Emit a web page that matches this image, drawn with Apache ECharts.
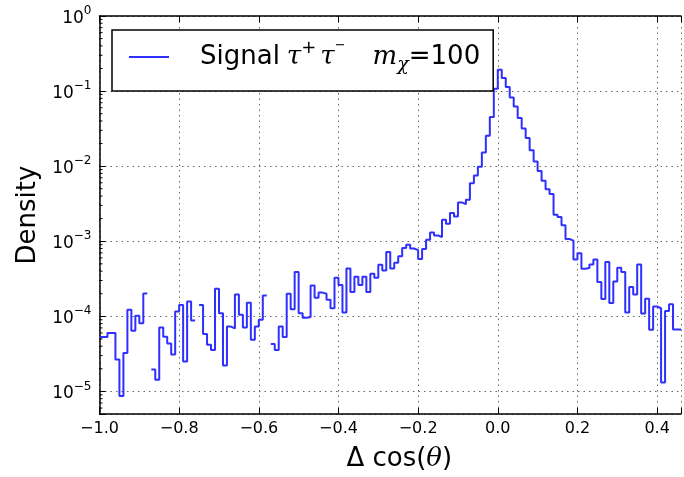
<!DOCTYPE html>
<html><head><meta charset="utf-8">
<script src="https://cdn.jsdelivr.net/npm/echarts@6/dist/echarts.min.js"></script>
<style>html,body{margin:0;padding:0;background:#fff}#c{width:684px;height:477px}</style>
</head><body><div id="c"></div>
<script>
// Histogram: bins of width 0.01 starting at -1.0 (null = empty bin)
const binStart = -1.0;
const binWidth = 0.01;
const density = [
  5.3e-5, 5.3e-5, 6.0e-5, 6.0e-5, 2.65e-5, 8.7e-6, 3.25e-5, 1.22e-4, 6.4e-5, 1.02e-4,
  8.1e-5, 2.02e-4, null, 1.95e-5, 1.43e-5, 7.1e-5, 5.35e-5, 4.36e-5, 3.09e-5, 1.16e-4,
  1.42e-4, 2.5e-5, 1.57e-4, 8.8e-5, null, 1.42e-4, 5.8e-5, 4.19e-5, 3.56e-5, 2.33e-4,
  1.10e-4, 2.21e-5, 7.3e-5, 6.9e-5, 1.96e-4, 1.05e-4, 7.1e-5, 1.52e-4, 4.89e-5, 7.3e-5,
  9.0e-5, 1.9e-4, null, 4.27e-5, 3.56e-5, 7.3e-5, 5.3e-5, 2.0e-4, 1.24e-4, 3.88e-4,
  1.10e-4, 9.6e-5, 9.8e-5, 2.58e-4, 1.77e-4, 2.07e-4, 2.0e-4, 1.66e-4, 1.28e-4, 3.26e-4,
  2.61e-4, 1.12e-4, 4.34e-4, 2.11e-4, 3.37e-4, 2.61e-4, 3.37e-4, 2.11e-4, 3.69e-4, 3.26e-4,
  4.85e-4, 4.08e-4, 7.2e-4, 4.35e-4, 5.17e-4, 6.3e-4, 8.1e-4, 9.0e-4, 8.0e-4, 7.6e-4,
  5.8e-4, 7.9e-4, 1.05e-3, 1.31e-3, 1.19e-3, 1.14e-3, 1.93e-3, 1.71e-3, 2.37e-3, 2.14e-3,
  3.29e-3, 3.12e-3, 3.56e-3, 5.9e-3, 7.5e-3, 9.8e-3, 1.52e-2, 2.54e-2, 4.53e-2, 0.107,
  0.193, 0.149, 0.113, 8.2e-2, 6.25e-2, 4.39e-2, 3.17e-2, 2.38e-2, 1.63e-2, 1.15e-2,
  8.6e-3, 6.4e-3, 4.93e-3, 4.27e-3, 2.25e-3, 2.10e-3, 1.63e-3, 1.07e-3, 1.02e-3, 5.7e-4,
  6.9e-4, 4.3e-4, 4.4e-4, 4.9e-4, 5.7e-4, 2.86e-4, 1.7e-4, 5.3e-4, 1.5e-4, 2.9e-4,
  4.43e-4, 3.88e-4, 1.12e-4, 2.46e-4, 1.96e-4, 4.9e-4, 1.09e-4, 1.72e-4, 6.6e-5, 1.35e-4,
  1.28e-4, 1.31e-5, 1.18e-4, 1.45e-4, 6.7e-5, 6.7e-5
];
const xTickValues = [-1.0, -0.8, -0.6, -0.4, -0.2, 0.0, 0.2, 0.4];
const yTickExponents = [0, -1, -2, -3, -4, -5];
const minorMantissas = [2, 3, 4, 5, 6, 7, 8, 9];
const seriesName = 'Signal';

const xMin = -1.0, xMax = 0.46, yMin = 5e-6, yMax = 1;

// step outline vertices from bins
const pts = [];
density.forEach((v, i) => {
  const x0 = +(binStart + i * binWidth).toFixed(4);
  const x1 = +(binStart + (i + 1) * binWidth).toFixed(4);
  if (v == null) { pts.push([x0, null]); return; }
  pts.push([x0, v]); pts.push([x1, v]);
});

const minorTicks = [];
for (let e = -6; e < 0; e++) for (const m of minorMantissas) {
  const v = m * Math.pow(10, e);
  if (v >= yMin && v < yMax) minorTicks.push([xMin, v]);
}

const FONT = 'DejaVu Sans';
const MATH = 'DejaVu Serif';
const gridLine = { show: true, lineStyle: { color: '#666', width: 1, type: [1.5, 4] } };

const chart = echarts.init(document.getElementById('c'), null, { renderer: 'canvas' });
chart.setOption({
  animation: false,
  backgroundColor: '#fff',
  grid: { left: 99.5, right: 0, top: 16, bottom: 61, containLabel: false },
  legend: {
    data: [seriesName],
    left: 112, top: 30,
    padding: [9, 13, 16, 17],
    itemWidth: 40, itemHeight: 2, icon: 'rect',
    borderColor: '#000', borderWidth: 1.5, backgroundColor: '#fff',
    formatter: () => '{sp| }{a|Signal}{sm1| }{m|τ}{sup|+}{sm| }{m|τ}{supm|−}{gap| }{m|m}{sub|χ}{a|=100}',
    textStyle: {
      rich: {
        sp: { width: 26, fontSize: 26, lineHeight: 36 },
        sm1: { width: 7, fontSize: 26, lineHeight: 36 },
        sm: { width: 4, fontSize: 26, lineHeight: 36 },
        gap: { width: 27, fontSize: 26, lineHeight: 36 },
        a: { fontFamily: FONT, fontSize: 26, color: '#000', lineHeight: 36, verticalAlign: 'middle' },
        m: { fontFamily: MATH, fontStyle: 'italic', fontSize: 26, color: '#000', lineHeight: 36, verticalAlign: 'middle' },
        sup: { fontFamily: FONT, fontSize: 18, color: '#000', lineHeight: 24, verticalAlign: 'top' },
        supm: { fontFamily: FONT, fontSize: 13, color: '#000', lineHeight: 24, verticalAlign: 'top' },
        sub: { fontFamily: MATH, fontStyle: 'italic', fontSize: 19, color: '#000', lineHeight: 12, verticalAlign: 'bottom' }
      }
    }
  },
  xAxis: [{
    type: 'value', position: 'bottom', min: xMin, max: xMax, interval: 0.2,
    axisLine: { show: true, onZero: false, lineStyle: { color: '#000', width: 1.5 } },
    axisTick: { show: true, inside: true, length: 6, lineStyle: { color: '#000', width: 1 } },
    axisLabel: {
      margin: 7, color: '#000', fontFamily: FONT, fontSize: 16,
      formatter: v => {
        const t = xTickValues.find(x => Math.abs(x - v) < 1e-6);
        if (t === undefined) return '';
        return t.toFixed(1).replace('-', '\u2212');
      }
    },
    splitLine: gridLine,
    name: '{a|Δ cos(}{t|θ}{a|)}', nameLocation: 'middle', nameGap: 32,
    nameTextStyle: {
      padding: [0, 0, 0, 18],
      rich: {
        a: { fontFamily: FONT, fontSize: 26, color: '#000' },
        t: { fontFamily: MATH, fontStyle: 'italic', fontSize: 26, color: '#000' }
      }
    }
  }, {
    type: 'value', position: 'top', min: xMin, max: xMax, interval: 0.2,
    axisLine: { show: true, onZero: false, lineStyle: { color: '#000', width: 1.5 } },
    axisTick: { show: true, inside: true, length: 6, lineStyle: { color: '#000', width: 1 } },
    axisLabel: { show: false }, splitLine: { show: false }
  }],
  yAxis: [{
    type: 'log', logBase: 10, min: yMin, max: yMax, position: 'left',
    axisLine: { show: true, onZero: false, lineStyle: { color: '#000', width: 1.5 } },
    axisTick: { show: true, inside: true, length: 6, lineStyle: { color: '#000', width: 1 } },
    axisLabel: {
      margin: 8, color: '#000',
      formatter: v => {
        const l = Math.log10(v), e = Math.round(l);
        if (Math.abs(l - e) > 1e-6 || !yTickExponents.includes(e)) return '';
        return '{b|10}{s|' + (e < 0 ? '\u2212' + (-e) : String(e)) + '}';
      },
      rich: {
        b: { fontFamily: FONT, fontSize: 17, color: '#000', lineHeight: 22, verticalAlign: 'bottom' },
        s: { fontFamily: FONT, fontSize: 12, color: '#000', lineHeight: 8, verticalAlign: 'top' }
      }
    },
    splitLine: gridLine,
    name: 'Density', nameLocation: 'middle', nameGap: 53,
    nameTextStyle: { fontFamily: FONT, fontSize: 26, color: '#000' }
  }],
  series: [{
    name: seriesName, type: 'line', data: pts, xAxisIndex: 0, yAxisIndex: 0,
    showSymbol: false, symbol: 'none', connectNulls: false, clip: true,
    lineStyle: { color: '#2f2fff', width: 2 }, itemStyle: { color: '#2f2fff' }, z: 3
  }, {
    name: 'minorTicks', type: 'custom', data: minorTicks, xAxisIndex: 0, yAxisIndex: 0,
    encode: { x: 0, y: 1 }, silent: true, z: 4,
    renderItem: (params, api) => {
      const p = api.coord([api.value(0), api.value(1)]);
      return { type: 'line', shape: { x1: p[0], y1: p[1], x2: p[0] + 3, y2: p[1] },
               style: { stroke: '#000', lineWidth: 1 } };
    }
  }]
});
</script></body></html>
